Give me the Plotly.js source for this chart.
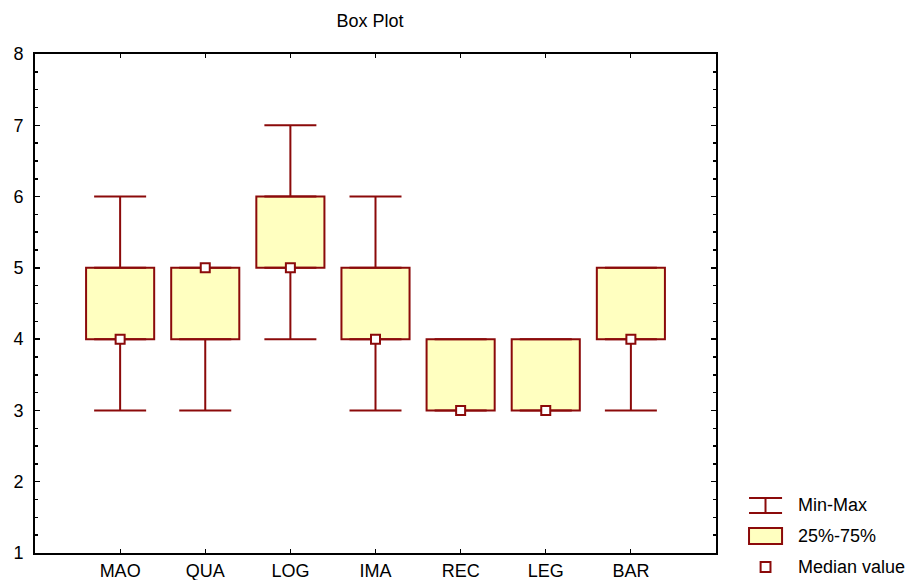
<!DOCTYPE html>
<html>
<head>
<meta charset="utf-8">
<script src="https://cdn.plot.ly/plotly-3.0.1.min.js"></script>
<style>
  html, body { margin: 0; padding: 0; background: #fff; }
  #chart { width: 907px; height: 580px; }
</style>
</head>
<body>
<div id="chart"></div>
<script>
// Summary statistics per group
const categories = ['MAO', 'QUA', 'LOG', 'IMA', 'REC', 'LEG', 'BAR'];
const minValues = [3, 3, 4, 3, 3, 3, 3];
const q1Values = [4, 4, 5, 4, 3, 3, 4];
const medianValues = [4, 5, 5, 4, 3, 3, 4];
const q3Values = [5, 5, 6, 5, 4, 4, 5];
const maxValues = [6, 5, 7, 6, 4, 4, 5];

const legendLabels = ['Min-Max', '25%-75%', 'Median value'];

const LINE = '#8b0a0a';
const FILL = '#ffffc0';
const FONT = 'Liberation Sans, Arial, sans-serif';

const zeros = categories.map(() => 0);

// 25%-75% boxes: bars spanning q1..q3
const boxTrace = {
  type: 'bar',
  x: categories,
  base: q1Values,
  y: q3Values.map((q3, i) => q3 - q1Values[i]),
  width: 0.8,
  marker: { color: FILL, line: { color: LINE, width: 2 } },
  hoverinfo: 'skip',
  showlegend: false
};

// Whiskers with end caps: q3 -> max and q1 -> min
const whiskerStyle = { type: 'data', symmetric: false, width: 26, thickness: 2, color: LINE };
const upperWhisker = {
  type: 'scatter', mode: 'markers', x: categories, y: q3Values,
  marker: { size: 1, color: 'rgba(0,0,0,0)' },
  error_y: Object.assign({ array: maxValues.map((m, i) => m - q3Values[i]), arrayminus: zeros }, whiskerStyle),
  hoverinfo: 'skip', showlegend: false
};
const lowerWhisker = {
  type: 'scatter', mode: 'markers', x: categories, y: q1Values,
  marker: { size: 1, color: 'rgba(0,0,0,0)' },
  error_y: Object.assign({ array: zeros, arrayminus: q1Values.map((q, i) => q - minValues[i]) }, whiskerStyle),
  hoverinfo: 'skip', showlegend: false
};

const medianTrace = {
  type: 'scatter',
  mode: 'markers',
  x: categories,
  y: medianValues,
  marker: { symbol: 'square', size: 9, color: '#ffffff', line: { color: LINE, width: 2 } },
  cliponaxis: false,
  showlegend: false
};

// Legend drawn beside the plot area (paper coordinates)
const shapes = [
  // Min-Max key
  { type: 'line', xref: 'paper', yref: 'paper', x0: 1.0485, x1: 1.097, y0: 0.1102, y1: 0.1102, line: { color: LINE, width: 2 } },
  { type: 'line', xref: 'paper', yref: 'paper', x0: 1.0485, x1: 1.097, y0: 0.0802, y1: 0.0802, line: { color: LINE, width: 2 } },
  { type: 'line', xref: 'paper', yref: 'paper', x0: 1.0727, x1: 1.0727, y0: 0.0802, y1: 0.1102, line: { color: LINE, width: 2 } },
  // 25%-75% key
  { type: 'rect', xref: 'paper', yref: 'paper', x0: 1.0485, x1: 1.097, y0: 0.018, y1: 0.0501, fillcolor: FILL, line: { color: LINE, width: 2 } },
  // Median key
  { type: 'rect', xref: 'paper', yref: 'paper', x0: 1.0655, x1: 1.0800, y0: -0.038, y1: -0.018, fillcolor: '#ffffff', line: { color: LINE, width: 2 } }
];

const legendY = [0.0952, 0.0341, -0.028];
const annotations = legendLabels.map((t, i) => ({
  text: t, xref: 'paper', yref: 'paper', x: 1.1175, y: legendY[i],
  xanchor: 'left', yanchor: 'middle', showarrow: false,
  font: { family: FONT, size: 18, color: '#000' }
}));

const layout = {
  width: 907,
  height: 580,
  margin: { l: 35, r: 191, t: 54, b: 27 },
  paper_bgcolor: '#ffffff',
  plot_bgcolor: '#ffffff',
  font: { family: FONT, size: 18, color: '#000' },
  title: { text: 'Box Plot', x: 0.408, xanchor: 'center', y: 0.965, yanchor: 'middle', font: { family: FONT, size: 18, color: '#000' } },
  showlegend: false,
  barmode: 'overlay',
  xaxis: {
    type: 'category',
    categoryorder: 'array',
    categoryarray: categories,
    range: [-1, 7],
    showgrid: false,
    zeroline: false,
    showline: true,
    linecolor: '#000',
    linewidth: 2,
    mirror: 'ticks',
    ticks: 'inside',
    ticklen: 4,
    tickwidth: 1,
    tickcolor: '#000',
    fixedrange: true
  },
  yaxis: {
    range: [1, 8],
    dtick: 1,
    tick0: 1,
    showgrid: false,
    zeroline: false,
    showline: true,
    linecolor: '#000',
    linewidth: 2,
    mirror: 'allticks',
    ticks: 'inside',
    ticklen: 5,
    tickwidth: 1.5,
    tickcolor: '#000',
    ticklabelstandoff: 6,
    minor: { dtick: 0.25, ticks: 'inside', ticklen: 3, tickwidth: 1.5, tickcolor: '#000', showgrid: false },
    fixedrange: true
  },
  shapes: shapes,
  annotations: annotations
};

Plotly.newPlot('chart', [boxTrace, upperWhisker, lowerWhisker, medianTrace], layout, { displayModeBar: false, staticPlot: true });
</script>
</body>
</html>
